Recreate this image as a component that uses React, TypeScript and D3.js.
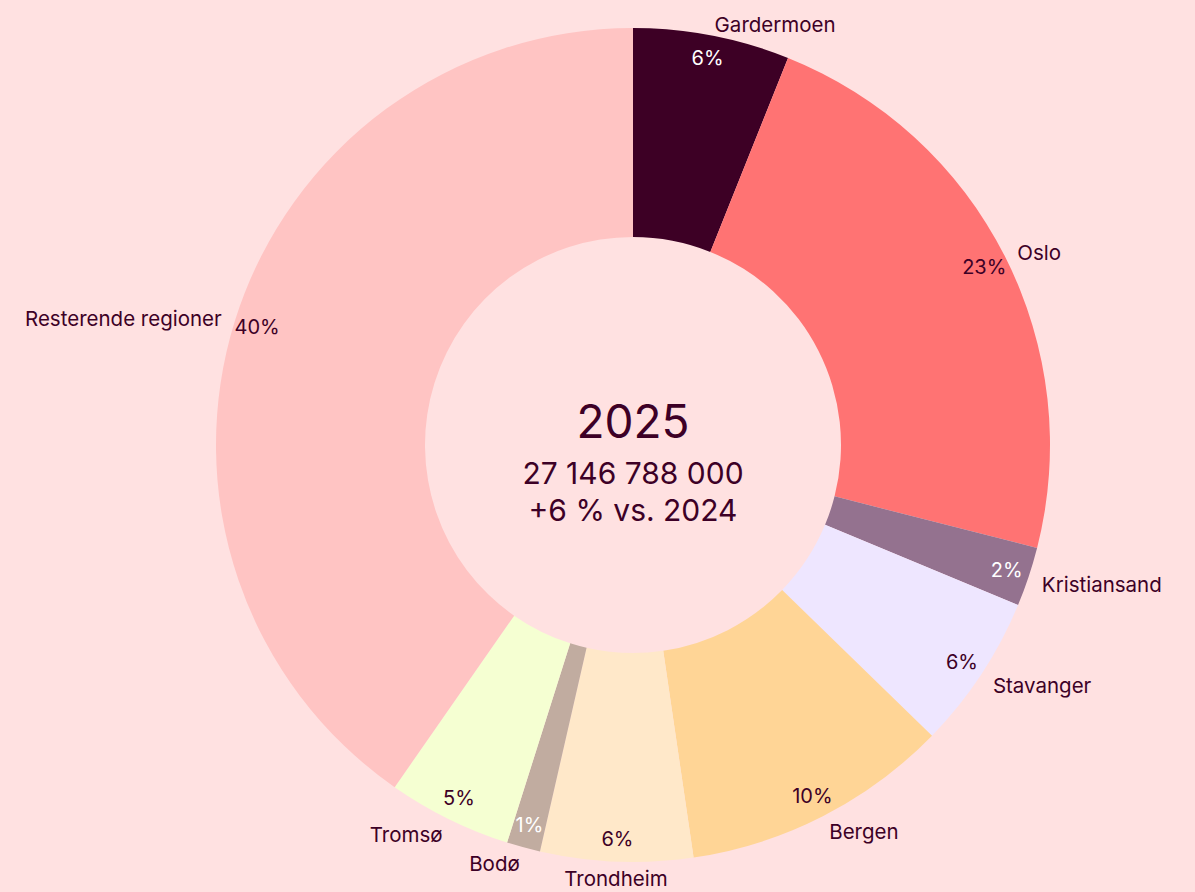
import { useEffect, useRef } from 'react';
import * as d3 from 'd3';

const regions = ['Gardermoen', 'Oslo', 'Kristiansand', 'Stavanger', 'Bergen', 'Trondheim', 'Bodø', 'Tromsø', 'Resterende regioner'];
const shares = [6.06, 22.9, 2.3, 6.0, 10.4, 5.9, 1.3, 4.8, 40.3];
const colors = ['#3d0025', '#ff7373', '#94728f', '#eee6ff', '#ffd596', '#ffe8c9', '#c1aca0', '#f5ffd2', '#ffc4c3'];
const darkSlices = ['Gardermoen', 'Kristiansand', 'Bodø'];
const centerLines = ['2025', '27 146 788 000', '+6 % vs. 2024'];

const W = 1195;
const H = 892;
const INK = '#3d0026';
const FONT = 'Inter, "Open Sans", sans-serif';

const App = () => {
  const svgRef = useRef<SVGSVGElement>(null);

  useEffect(() => {
    const root = d3.select(svgRef.current);
    root.selectAll('*').remove();

    const cx = 633;
    const cy = 445;
    const outer = 417;
    const inner = 208;

    root.append('rect').attr('width', W).attr('height', H).attr('fill', '#ffe1e1');

    const g = root.append('g').attr('transform', `translate(${cx},${cy})`);

    const data = regions.map((name, i) => ({ name, value: shares[i], color: colors[i] }));
    const total = d3.sum(data, d => d.value);

    const pie = d3
      .pie<{ name: string; value: number; color: string }>()
      .sort(null)
      .value(d => d.value);
    const arcs = pie(data);

    const arc = d3.arc<d3.PieArcDatum<any>>().innerRadius(inner).outerRadius(outer);

    g.selectAll('path.slice')
      .data(arcs)
      .enter()
      .append('path')
      .attr('class', 'slice')
      .attr('d', arc as any)
      .attr('fill', d => d.data.color);

    const mid = (d: d3.PieArcDatum<any>) => (d.startAngle + d.endAngle) / 2;

    // percentages, just inside the outer edge
    g.selectAll('text.pct')
      .data(arcs)
      .enter()
      .append('text')
      .attr('class', 'pct')
      .attr('x', d => Math.sin(mid(d)) * 394)
      .attr('y', d => -Math.cos(mid(d)) * 394)
      .attr('text-anchor', 'middle')
      .attr('dominant-baseline', 'central')
      .attr('font-family', FONT)
      .attr('font-size', 20)
      .attr('fill', d => (darkSlices.includes(d.data.name) ? '#ffffff' : INK))
      .text(d => `${Math.round((d.data.value / total) * 100)}%`);

    // region names outside
    g.selectAll('text.name')
      .data(arcs)
      .enter()
      .append('text')
      .attr('class', 'name')
      .attr('x', d => Math.sin(mid(d)) * 431)
      .attr('y', d => -Math.cos(mid(d)) * 431 + 3)
      .attr('text-anchor', d => {
        const dx = Math.sin(mid(d)) * 431;
        return dx > 30 ? 'start' : dx < -30 ? 'end' : 'middle';
      })
      .attr('dominant-baseline', 'central')
      .attr('font-family', FONT)
      .attr('font-size', 20.5)
      .attr('fill', INK)
      .text(d => d.data.name);

    // centre text
    const sizes = [46, 30, 30];
    const baselines = [-7, 39, 76];
    g.selectAll('text.center')
      .data(centerLines)
      .enter()
      .append('text')
      .attr('class', 'center')
      .attr('x', 0)
      .attr('y', (_, i) => baselines[i])
      .attr('text-anchor', 'middle')
      .attr('font-family', FONT)
      .attr('font-size', (_, i) => sizes[i])
      .attr('fill', INK)
      .text(d => d);
  }, []);

  return (
    <>
      <style>{'body{margin:0;}'}</style>
      <svg ref={svgRef} width={W} height={H} style={{ display: 'block' }}></svg>
    </>
  );
};

export default App;
